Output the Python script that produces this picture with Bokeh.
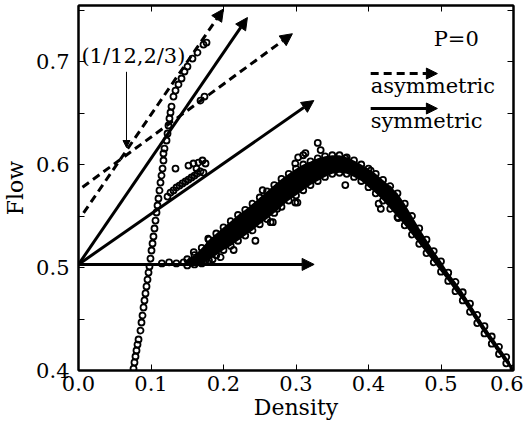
from bokeh.plotting import figure
from bokeh.models import (Range1d, LinearAxis, FixedTicker, Arrow, NormalHead,
                          ColumnDataSource, Label, CustomJSTickFormatter)
from bokeh.embed import file_html
from bokeh.resources import INLINE

# ---- data ----
# steep (low-density) branch
steep_x = [0.0759, 0.0772, 0.0786, 0.0800, 0.0814, 0.0828, 0.0855, 0.0869, 0.0883, 0.0897,
           0.0910, 0.0924, 0.0938, 0.0952, 0.0966, 0.0979, 0.0993, 0.1007, 0.1021, 0.1034,
           0.1048, 0.1062, 0.1076, 0.1090, 0.1103, 0.1117, 0.1131, 0.1145, 0.1159, 0.1172,
           0.1172, 0.1186, 0.1214, 0.1228, 0.1241, 0.1255, 0.1269, 0.1283, 0.1310, 0.1338,
           0.1379, 0.1421, 0.1462, 0.1503, 0.1572, 0.1641, 0.1724, 0.1766, 0.1683, 0.1738]
steep_y = [0.4019, 0.4078, 0.4136, 0.4194, 0.4252, 0.4301, 0.4388, 0.4466, 0.4534, 0.4612,
           0.4680, 0.4748, 0.4816, 0.4883, 0.4951, 0.5010, 0.5087, 0.5165, 0.5233, 0.5301,
           0.5379, 0.5456, 0.5534, 0.5602, 0.5670, 0.5748, 0.5825, 0.5893, 0.5961, 0.6039,
           0.6107, 0.6155, 0.6233, 0.6301, 0.6379, 0.6447, 0.6505, 0.6563, 0.6660, 0.6718,
           0.6777, 0.6835, 0.6903, 0.6951, 0.7029, 0.7087, 0.7165, 0.7184, 0.6621, 0.6660]

# cluster along the symmetric arrow
clus_x = [0.1228, 0.1269, 0.1310, 0.1352, 0.1393, 0.1434, 0.1476, 0.1517, 0.1559, 0.1600,
          0.1641, 0.1683, 0.1724, 0.1338, 0.1517, 0.1586, 0.1655, 0.1710, 0.1752, 0.1628]
clus_y = [0.5689, 0.5728, 0.5748, 0.5777, 0.5796, 0.5816, 0.5835, 0.5854, 0.5874, 0.5893,
          0.5913, 0.5932, 0.5922, 0.5961, 0.5990, 0.6010, 0.6019, 0.6039, 0.6010, 0.5961]

# flat start of main branch
flat_x = [0.115, 0.125, 0.135, 0.145, 0.155, 0.165, 0.175, 0.185]
flat_y = [0.504, 0.505, 0.504, 0.505, 0.506, 0.506, 0.507, 0.508]

# main branch band (lower / upper edge)
band_x = [0.15, 0.16, 0.17, 0.18, 0.19, 0.20, 0.21, 0.22, 0.23, 0.24,
          0.25, 0.26, 0.27, 0.28, 0.29, 0.30, 0.31, 0.32, 0.33, 0.34,
          0.35, 0.36, 0.37, 0.38, 0.39, 0.40, 0.41, 0.42, 0.43, 0.44,
          0.45, 0.46, 0.47, 0.48, 0.49, 0.50, 0.51, 0.52, 0.53, 0.54,
          0.55, 0.56, 0.57, 0.58, 0.59, 0.60]
band_hi = [0.508, 0.512, 0.519, 0.527, 0.533, 0.539, 0.545, 0.551, 0.556, 0.562,
           0.568, 0.574, 0.580, 0.586, 0.591, 0.596, 0.600, 0.603, 0.606, 0.608,
           0.609, 0.609, 0.607, 0.604, 0.600, 0.596, 0.591, 0.585, 0.579, 0.572,
           0.562, 0.550, 0.538, 0.527, 0.516, 0.506, 0.495, 0.486, 0.476, 0.465,
           0.454, 0.443, 0.433, 0.423, 0.413, 0.402]
band_lo = [0.502, 0.503, 0.504, 0.507, 0.512, 0.517, 0.521, 0.526, 0.531, 0.536,
           0.542, 0.547, 0.553, 0.559, 0.565, 0.570, 0.575, 0.580, 0.584, 0.588,
           0.591, 0.592, 0.591, 0.588, 0.584, 0.578, 0.572, 0.565, 0.557, 0.549,
           0.541, 0.532, 0.523, 0.514, 0.505, 0.496, 0.487, 0.477, 0.468, 0.457,
           0.446, 0.436, 0.426, 0.416, 0.407, 0.398]

# scattered outliers around the main branch
out_x = [0.330, 0.334, 0.299, 0.274, 0.268, 0.414, 0.417, 0.441, 0.368, 0.310,
         0.299, 0.428, 0.403, 0.368, 0.254, 0.302, 0.265, 0.226, 0.244, 0.196,
         0.214, 0.179, 0.313, 0.303, 0.159]
out_y = [0.621, 0.614, 0.563, 0.557, 0.544, 0.562, 0.557, 0.548, 0.580, 0.609,
         0.601, 0.576, 0.594, 0.606, 0.575, 0.563, 0.544, 0.549, 0.526, 0.510,
         0.517, 0.528, 0.611, 0.607, 0.515]

# arrows (symmetric = solid, asymmetric = dashed)
sym_x0 = [0.0, 0.0, 0.0]
sym_y0 = [0.503, 0.503, 0.503]
sym_x1 = [0.325, 0.3246, 0.233]
sym_y1 = [0.503, 0.6621, 0.7427]

asym_x0 = [0.007, 0.0055]
asym_y0 = [0.553, 0.578]
asym_x1 = [0.200, 0.295]
asym_y1 = [0.751, 0.727]

x_ticks = [0.0, 0.1, 0.2, 0.3, 0.4, 0.5, 0.6]
y_ticks = [0.4, 0.5, 0.6, 0.7]
y_minor = [0.45, 0.55, 0.65, 0.75]

FONT = "DejaVu Serif"

p = figure(width=523, height=430, output_backend="svg", toolbar_location=None,
           x_range=Range1d(0, 0.6), y_range=Range1d(0.4, 0.7544),
           min_border_left=78, min_border_right=10, min_border_top=5, min_border_bottom=60)
p.xgrid.visible = False
p.ygrid.visible = False
p.outline_line_color = "black"
p.outline_line_width = 2
p.background_fill_color = "white"
p.border_fill_color = "white"

for ax, tks, mn in ((p.xaxis[0], x_ticks, []), (p.yaxis[0], y_ticks, y_minor)):
    ax.ticker = FixedTicker(ticks=tks, minor_ticks=mn)
    ax.formatter = CustomJSTickFormatter(code="return tick.toFixed(1);")
    ax.major_tick_in = 6
    ax.major_tick_out = 0
    ax.minor_tick_in = 6
    ax.minor_tick_out = 0
    ax.axis_line_width = 2
    ax.major_label_text_font = FONT
    ax.major_label_text_font_size = "21px"
    ax.major_label_text_color = "black"
    ax.axis_label_text_font = FONT
    ax.axis_label_text_font_size = "22px"
    ax.axis_label_text_font_style = "normal"
    ax.axis_label_text_color = "black"

p.xaxis[0].axis_label = "Density"
p.yaxis[0].axis_label = "Flow"
p.xaxis[0].major_label_standoff = 5
p.yaxis[0].major_label_standoff = 9
p.xaxis[0].axis_label_standoff = 1
p.yaxis[0].axis_label_standoff = 5

# mirrored tick marks (right / top), no labels
for loc, tks, mn in (("right", y_ticks, y_minor), ("above", x_ticks, [])):
    ax = LinearAxis(ticker=FixedTicker(ticks=tks, minor_ticks=mn),
                    formatter=CustomJSTickFormatter(code="return '';"))
    ax.major_tick_in = 6
    ax.major_tick_out = 0
    ax.minor_tick_in = 6
    ax.minor_tick_out = 0
    ax.major_label_standoff = 0
    ax.axis_line_width = 2
    p.add_layout(ax, loc)

# main band
p.varea(x=band_x, y1=band_lo, y2=band_hi, fill_color="black")

mk = dict(marker="circle", size=6, fill_color=None, line_color="black", line_width=1.8)
p.scatter(band_x, band_hi, **mk)
p.scatter(band_x, band_lo, **mk)
p.scatter(steep_x, steep_y, **mk)
p.scatter(clus_x, clus_y, **mk)
p.scatter(flat_x, flat_y, **mk)
p.scatter(out_x, out_y, **mk)

# arrows
sym_src = ColumnDataSource(dict(x0=sym_x0, y0=sym_y0, x1=sym_x1, y1=sym_y1))
asym_src = ColumnDataSource(dict(x0=asym_x0, y0=asym_y0, x1=asym_x1, y1=asym_y1))
p.add_layout(Arrow(source=sym_src, x_start="x0", y_start="y0", x_end="x1", y_end="y1",
                   line_width=3, line_color="black",
                   end=NormalHead(size=12, fill_color="black", line_color="black")))
p.add_layout(Arrow(source=asym_src, x_start="x0", y_start="y0", x_end="x1", y_end="y1",
                   line_width=3, line_color="black", line_dash="8 5",
                   end=NormalHead(size=12, fill_color="black", line_color="black")))

# legend arrows
p.add_layout(Arrow(x_start=0.403, y_start=0.6883, x_end=0.495, y_end=0.6883,
                   line_width=3, line_dash="8 5", line_color="black",
                   end=NormalHead(size=11, fill_color="black", line_color="black")))
p.add_layout(Arrow(x_start=0.403, y_start=0.6544, x_end=0.495, y_end=0.6544,
                   line_width=3, line_color="black",
                   end=NormalHead(size=11, fill_color="black", line_color="black")))

# annotation arrow
p.add_layout(Arrow(x_start=0.0662, y_start=0.690, x_end=0.0662, y_end=0.6165,
                   line_width=1, line_color="black",
                   end=NormalHead(size=7, fill_color="black", line_color="black")))

lab = dict(text_font=FONT, text_font_size="21px", text_color="black")
p.add_layout(Label(x=0.004, y=0.694, text="(1/12,2/3)", **lab))
p.add_layout(Label(x=0.521, y=0.7107, text="P=0", text_align="center", **lab))
p.add_layout(Label(x=0.403, y=0.665, text="asymmetric", **lab))
p.add_layout(Label(x=0.403, y=0.631, text="symmetric", **lab))

open("out.html", "w").write(file_html(p, INLINE))
